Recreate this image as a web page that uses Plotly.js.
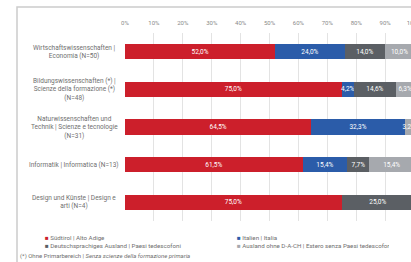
<!DOCTYPE html>
<html>
<head>
<meta charset="utf-8">
<script src="https://cdn.plot.ly/plotly-3.0.1.min.js"></script>
<style>
html,body{margin:0;padding:0;overflow:hidden;background:#fff;width:411px;height:262px;}
#chart{width:440px;height:262px;}
</style>
</head>
<body>
<div id="chart"></div>
<script>
// ---- data ----
const categories = [
  "Wirtschaftswissenschaften |<br>Economia (N=50)",
  "Bildungswissenschaften (*) |<br>Scienze della formazione (*)<br>(N=48)",
  "Naturwissenschaften und<br>Technik | Scienze e tecnologie<br>(N=31)",
  "Informatik | Informatica (N=13)",
  "Design und Künste | Design e<br>arti (N=4)"
];
const seriesNames = [
  "Südtirol | Alto Adige",
  "Italien | Italia",
  "Deutschsprachiges Ausland | Paesi tedescofoni",
  "Ausland ohne D-A-CH | Estero senza Paesi tedescofoni"
];
const suedtirol = [52.0, 75.0, 64.5, 61.5, 75.0];
const italien   = [24.0, 4.2, 32.3, 15.4, 0];
const dach      = [14.0, 14.6, 0, 7.7, 25.0];
const ausland   = [10.0, 6.3, 3.2, 15.4, 0];
const tickValues = [0,10,20,30,40,50,60,70,80,90,100];
const tickLabels = ["0%","10%","20%","30%","40%","50%","60%","70%","80%","90%","100%"];
const footnote = "(*) Ohne Primarbereich | <i>Senza scienze della formazione primaria</i>";

// ---- styles ----
const colors = ["#cc1f2b", "#2b5ca9", "#5b5f64", "#a6a9ae"];
const FONT = "Roboto, 'Open Sans', sans-serif";
const allSeries = [suedtirol, italien, dach, ausland];

function fmt(v){ return v > 0 ? v.toFixed(1).replace(".", ",") + "%" : ""; }

const traces = [];
allSeries.forEach((vals, i) => {
  traces.push({
    type: "bar",
    orientation: "h",
    x: vals,
    y: categories,
    name: seriesNames[i],
    marker: {color: colors[i]},
    text: vals.map(fmt),
    textposition: "inside",
    insidetextanchor: "middle",
    textangle: 0,
    textfont: {color: "#ffffff", size: 6.5, family: FONT},
    width: 0.4,
    showlegend: false,
    hoverinfo: "skip"
  });
});
// legend entries (two rows -> two legends)
seriesNames.forEach((n, i) => {
  traces.push({
    type: "scatter",
    mode: "lines",
    x: [null], y: [null],
    line: {width: 0, color: colors[i]},
    name: '<span style="color:' + colors[i] + '">■</span> ' + n,
    showlegend: true,
    legend: i < 2 ? "legend" : "legend2",
    hoverinfo: "skip"
  });
});

const L = 125, R = 414, T = 33, B = 221, W = 440, H = 262;
const pw = R - L, ph = B - T;
const px = v => (v - L) / pw;
const py = v => (B - v) / ph;

const annotations = categories.map(c => ({
  xref: "paper", yref: "y",
  x: px(74), y: c,
  text: c,
  showarrow: false,
  xanchor: "center", yanchor: "middle",
  align: "center",
  font: {size: 6.5, color: "#6f6f6f", family: FONT}
}));
annotations.push({
  xref: "paper", yref: "paper",
  x: px(18), y: py(256),
  text: footnote,
  showarrow: false,
  xanchor: "left", yanchor: "middle",
  font: {size: 6, color: "#6f6f6f", family: FONT}
});

const legendBase = {
  orientation: "h",
  traceorder: "normal",
  xanchor: "left", yanchor: "top",
  entrywidth: 147, entrywidthmode: "pixels",
  itemwidth: 30,
  tracegroupgap: 0,
  font: {size: 6.2, color: "#6f6f6f", family: FONT},
  bgcolor: "rgba(0,0,0,0)"
};

const layout = {
  width: W, height: H,
  margin: {l: L, r: W - R, t: T, b: H - B, pad: 0, autoexpand: false},
  paper_bgcolor: "#ffffff",
  plot_bgcolor: "#ffffff",
  barmode: "stack",
  bargap: 0.6,
  showlegend: true,
  font: {family: FONT, color: "#777777"},
  uniformtext: {minsize: 6.5, mode: "show"},
  xaxis: {
    side: "top",
    range: [0, 100],
    tickvals: tickValues,
    ticktext: tickLabels,
    showgrid: true,
    gridcolor: "#e3e3e3",
    gridwidth: 1,
    zeroline: false,
    showline: false,
    ticks: "",
    ticklabelstandoff: 6,
    tickfont: {size: 6, color: "#8a8a8a", family: FONT},
    fixedrange: true
  },
  yaxis: {
    type: "category",
    autorange: "reversed",
    showticklabels: false,
    showgrid: false,
    zeroline: false,
    showline: false,
    ticks: "",
    fixedrange: true
  },
  legend: Object.assign({}, legendBase, {x: px(5), y: py(223)}),
  legend2: Object.assign({}, legendBase, {x: px(5), y: py(231)}),
  shapes: [{
    type: "path",
    xref: "paper", yref: "paper",
    path: "M " + px(17) + " " + py(300) + " L " + px(17) + " " + py(7) + " L " + px(460) + " " + py(7),
    line: {color: "#cccccc", width: 1.5}
  }],
  annotations: annotations
};

Plotly.newPlot("chart", traces, layout, {displayModeBar: false, staticPlot: true});
</script>
</body>
</html>
